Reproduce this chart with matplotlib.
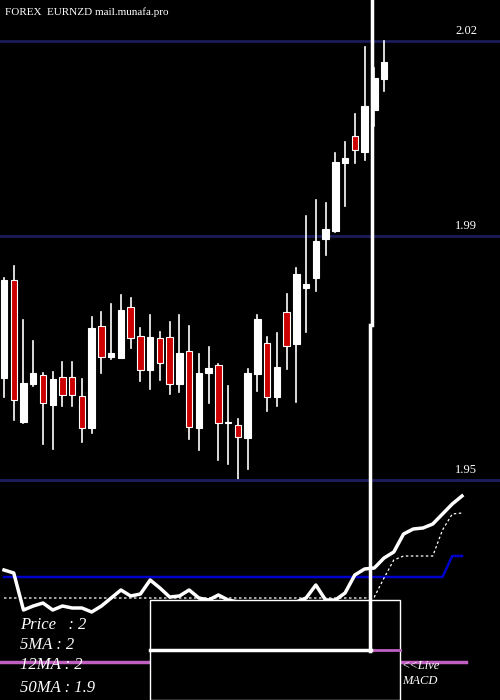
import numpy as np
from matplotlib import pyplot as plt
from matplotlib.patches import Rectangle

# EURNZD daily candles
opens = [1.9661, 1.9818, 1.9590, 1.9651, 1.9666, 1.9618, 1.9662, 1.9662, 1.9632, 1.9581,
         1.9744, 1.9694, 1.9693, 1.9774, 1.9728, 1.9674, 1.9725, 1.9726, 1.9651, 1.9704,
         1.9581, 1.9669, 1.9682, 1.9589, 1.9586, 1.9565, 1.9667, 1.9717, 1.9630, 1.9766,
         1.9715, 1.9805, 1.9821, 1.9883, 1.9896, 2.0005, 2.0048, 2.0022, 2.0090, 2.0139]
highs = [1.9821, 1.9840, 1.9754, 1.9720, 1.9669, 1.9670, 1.9686, 1.9686, 1.9659, 1.9758,
         1.9766, 1.9779, 1.9794, 1.9789, 1.9741, 1.9762, 1.9734, 1.9750, 1.9762, 1.9744,
         1.9699, 1.9710, 1.9683, 1.9648, 1.9595, 1.9675, 1.9762, 1.9726, 1.9733, 1.9795,
         1.9837, 1.9920, 1.9946, 1.9941, 2.0021, 2.0038, 2.0083, 2.0190, 2.0157, 2.0200]
lows = [1.9630, 1.9594, 1.9589, 1.9648, 1.9555, 1.9547, 1.9616, 1.9616, 1.9558, 1.9573,
        1.9669, 1.9691, 1.9693, 1.9709, 1.9656, 1.9643, 1.9658, 1.9635, 1.9638, 1.9563,
        1.9546, 1.9621, 1.9530, 1.9523, 1.9498, 1.9515, 1.9640, 1.9608, 1.9616, 1.9675,
        1.9622, 1.9734, 1.9800, 1.9858, 1.9894, 1.9936, 2.0005, 2.0010, 2.0064, 2.0120]
closes = [1.9818, 1.9626, 1.9653, 1.9669, 1.9621, 1.9659, 1.9634, 1.9634, 1.9581, 1.9741,
          1.9694, 1.9701, 1.9770, 1.9725, 1.9674, 1.9726, 1.9685, 1.9651, 1.9701, 1.9582,
          1.9669, 1.9677, 1.9589, 1.9590, 1.9566, 1.9669, 1.9755, 1.9630, 1.9678, 1.9712,
          1.9827, 1.9811, 1.9880, 1.9899, 2.0006, 2.0013, 2.0026, 2.0096, 2.0141, 2.0166]

grid_levels = [2.0200, 1.9888, 1.9498]
grid_labels = ["2.02", "1.99", "1.95"]

macd = [3.0, 2.7, -1.0, -0.6, -0.3, -1.0, -0.6, -0.8, -0.8, -1.2, -0.6, 0.2, 1.0, 0.4, 0.6, 2.0,
        1.2, 0.3, 0.4, 1.0, 0.2, 0.0, 0.5, 0.0, -0.2, -0.3, -0.3, -0.3, -0.3, -0.3, -0.2, 0.2,
        1.5, 0.0, 0.0, 0.7, 2.5, 3.1, 3.2, 4.2, 4.8, 6.6, 7.1, 7.2, 7.6, 8.6, 9.6, 10.4]
signal = [0.2] * 38 + [0.3, 2.2, 4.0, 4.4, 4.4, 4.4, 4.4, 7.0, 8.6, 8.7]
blue_line = [2.3] * 46 + [4.4, 4.4]
pink_level = -6.2

fig = plt.figure(figsize=(5, 7), dpi=100, facecolor="black")
xlim = (-0.41, 50.9)

ax = fig.add_axes([0, 220 / 700, 1, 480 / 700])
ax.set_facecolor("black")
ax.set_xlim(*xlim)
ax.set_ylim(1.9498, 2.02656)
ax.axis("off")
for lv, lb in zip(grid_levels, grid_labels):
    ax.axhline(lv, color="#1c1c5a", lw=2, zorder=1, clip_on=False)
    ax.text(46.3, lv + 0.0006, lb, color="white", fontsize=9, family="Liberation Serif",
            va="bottom", ha="left")
for i in range(len(opens)):
    o, h, l, c = opens[i], highs[i], lows[i], closes[i]
    ax.plot([i, i], [l, h], color="white", lw=1.2, zorder=2, clip_on=False)
    col = "white" if c >= o else "#cc0000"
    bot = min(o, c)
    hgt = max(abs(c - o), 0.0002)
    ax.add_patch(Rectangle((i - 0.33, bot), 0.66, hgt, facecolor=col, edgecolor="white",
                           lw=0.8, zorder=3))

bx = fig.add_axes([0, 0, 1, 220 / 700])
bx.set_facecolor("black")
bx.set_xlim(*xlim)
bx.set_ylim(-10, 12)
bx.axis("off")
idx = np.arange(len(macd))
bx.axhline(pink_level, xmax=(47.4 - xlim[0]) / (xlim[1] - xlim[0]), color="#c060c0", lw=2.5)
bx.plot(idx, blue_line, color="#0000cc", lw=1.8)
bx.plot(idx, signal, color="white", lw=0.9, ls=(0, (2, 2)))
bx.plot(idx, macd, color="white", lw=2.5)

ov = fig.add_axes([0, 0, 1, 1])
ov.set_xlim(0, 500)
ov.set_ylim(700, 0)
ov.axis("off")
ov.patch.set_alpha(0)
ov.plot([0, 500], [480, 480], color="#1c1c5a", lw=2)
ov.add_patch(Rectangle((150, 600), 250, 100, facecolor="black", edgecolor="white", lw=1))
ov.plot([370, 400], [650, 650], color="#c060c0", lw=2)
ov.plot([371.5, 371.5], [0, 325], color="white", lw=2.5)
ov.plot([370, 370], [325, 651], color="white", lw=2.5)
ov.plot([150, 371], [650, 650], color="white", lw=2.5)

ov.text(5, 12, "FOREX  EURNZD mail.munafa.pro", color="white", fontsize=8,
        family="Liberation Serif", va="center")
serif = dict(color="white", fontsize=12, family="Liberation Serif", style="italic", va="center")
ov.text(20, 625, "Price   : 2", **serif)
ov.text(20, 645, "5MA : 2", **serif)
ov.text(20, 665, "12MA : 2", **serif)
ov.text(20, 688, "50MA : 1.9", **serif)
ov.text(402, 666, "<<Live", color="white", fontsize=9, family="Liberation Serif",
        style="italic", va="center")
ov.text(402, 681, "MACD", color="white", fontsize=9, family="Liberation Serif",
        style="italic", va="center")

fig.savefig("out.png", facecolor="black")
